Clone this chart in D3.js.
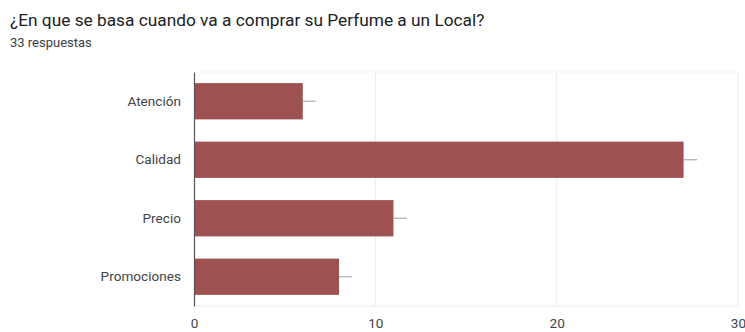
<!DOCTYPE html>
<html>
<head>
<meta charset="utf-8">
<script src="https://cdn.jsdelivr.net/npm/d3@7"></script>
<style>
  body { margin: 0; background: #fff; }
  text { font-family: Roboto, sans-serif; }
</style>
</head>
<body>
<div class="container"></div>
<script>
// data
const categories = ['Atención', 'Calidad', 'Precio', 'Promociones'];
const counts = [6, 27, 11, 8];
const whiskerEnds = [6.7, 27.75, 11.75, 8.7];
const xTicks = [0, 10, 20, 30];
const title = '¿En que se basa cuando va a comprar su Perfume a un Local?';
const subtitle = '33 respuestas';

const W = 745, H = 332;
const plot = {left: 194, right: 738, top: 72, bottom: 306};

const svg = d3.select('.container')
	.append('svg')
	.attr('width', W)
	.attr('height', H);

svg.append('text')
	.attr('x', 10).attr('y', 26)
	.attr('font-size', 17.3)
	.attr('fill', '#202124')
	.text(title);

svg.append('text')
	.attr('x', 10).attr('y', 47)
	.attr('font-size', 13)
	.attr('fill', '#3c4043')
	.text(subtitle);

const x = d3.scaleLinear().domain([0, 30]).range([plot.left, plot.right]);
const y = d3.scaleBand().domain(categories)
	.range([plot.top, plot.bottom])
	.paddingInner(0.38)
	.paddingOuter(0.19);

// grid
svg.append('g')
	.selectAll('line')
	.data(xTicks.slice(1))
	.join('line')
	.attr('x1', d => x(d)).attr('x2', d => x(d))
	.attr('y1', plot.top).attr('y2', plot.bottom)
	.attr('stroke', '#ebebeb');

svg.append('line')
	.attr('x1', plot.left).attr('x2', plot.right)
	.attr('y1', plot.bottom).attr('y2', plot.bottom)
	.attr('stroke', '#ebebeb');
svg.append('line')
	.attr('x1', plot.left).attr('x2', plot.right)
	.attr('y1', plot.top).attr('y2', plot.top)
	.attr('stroke', '#f3f3f3');

// bars
svg.append('g')
	.selectAll('rect')
	.data(counts)
	.join('rect')
	.attr('x', x(0))
	.attr('y', (d, i) => y(categories[i]))
	.attr('width', d => x(d) - x(0))
	.attr('height', y.bandwidth())
	.attr('fill', '#9e5151');

// whiskers
svg.append('g')
	.selectAll('line')
	.data(counts)
	.join('line')
	.attr('x1', d => x(d))
	.attr('x2', (d, i) => x(whiskerEnds[i]))
	.attr('y1', (d, i) => y(categories[i]) + y.bandwidth() / 2)
	.attr('y2', (d, i) => y(categories[i]) + y.bandwidth() / 2)
	.attr('stroke', '#ababab')
	.attr('stroke-width', 1.2);

// y axis
const yAxis = svg.append('g')
	.attr('transform', `translate(${plot.left},0)`)
	.call(d3.axisLeft(y).tickSize(0).tickPadding(13));
yAxis.select('.domain').attr('stroke', '#555').attr('stroke-width', 1.2);
yAxis.selectAll('text').attr('font-size', 13.6).attr('fill', '#444').attr('font-family', 'Roboto, sans-serif');

// x axis
const xAxis = svg.append('g')
	.attr('transform', `translate(0,${plot.bottom})`)
	.call(d3.axisBottom(x).tickValues(xTicks).tickSize(0).tickPadding(12));
xAxis.select('.domain').remove();
xAxis.selectAll('text').attr('font-size', 13.6).attr('fill', '#444').attr('font-family', 'Roboto, sans-serif');
</script>
</body>
</html>
